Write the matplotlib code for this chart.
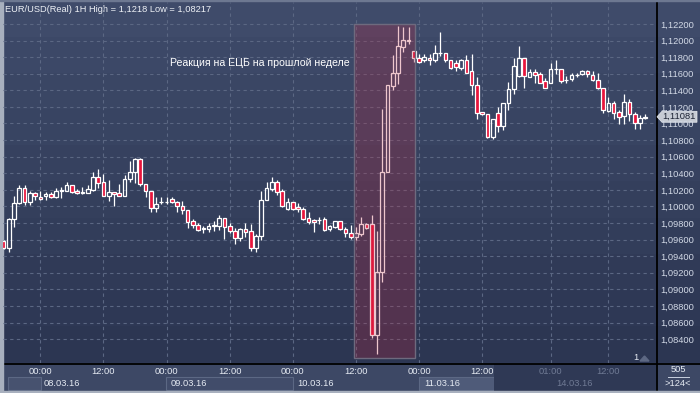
import matplotlib
matplotlib.use("Agg")
import matplotlib.pyplot as plt
import numpy as np
from matplotlib.colors import LinearSegmentedColormap
from matplotlib.patches import Rectangle, Polygon
from matplotlib.ticker import FuncFormatter
from matplotlib.transforms import blended_transform_factory

plt.rcParams["font.family"] = ["Liberation Sans", "DejaVu Sans"]

# EUR/USD 1H candles, 07.03.16 17:00 .. 14.03.16
OPEN = [1.09587, 1.09495, 1.09845, 1.10038, 1.10219, 1.10057, 1.10158, 1.10117, 1.10126, 1.10150,
        1.10117, 1.10182, 1.10190, 1.10258, 1.10190, 1.10165, 1.10165, 1.10198, 1.10351, 1.10291,
        1.10129, 1.10170, 1.10158, 1.10129, 1.10327, 1.10412, 1.10568, 1.10267, 1.10186, 1.09977,
        1.10050, 1.10054, 1.10093, 1.10050, 1.10001, 1.09953, 1.09820, 1.09772, 1.09724, 1.09731,
        1.09765, 1.09767, 1.09857, 1.09764, 1.09707, 1.09623, 1.09724, 1.09704, 1.09502, 1.09643,
        1.10074, 1.10214, 1.10295, 1.10186, 1.09969, 1.10050, 1.09997, 1.09969, 1.09857, 1.09836,
        1.09834, 1.09845, 1.09731, 1.09752, 1.09824, 1.09724, 1.09683, 1.09635, 1.09667, 1.09784,
        1.09788, 1.08449, 1.09206, 1.10412, 1.11456, 1.11605, 1.11926, 1.12000, 1.11878, 1.11786,
        1.11762, 1.11794, 1.11762, 1.11845, 1.11847, 1.11762, 1.11733, 1.11673, 1.11766, 1.11633,
        1.11461, 1.11135, 1.11111, 1.10841, 1.11130, 1.10973, 1.11244, 1.11412, 1.11576, 1.11786,
        1.11564, 1.11618, 1.11593, 1.11513, 1.11492, 1.11652, 1.11654, 1.11525, 1.11533, 1.11583,
        1.11593, 1.11637, 1.11585, 1.11525, 1.11425, 1.11151, 1.11244, 1.11139, 1.11087, 1.11259,
        1.11111, 1.11010, 1.11063]
HIGH = [1.09595, 1.09864, 1.10126, 1.10258, 1.10258, 1.10186, 1.10178, 1.10186, 1.10178, 1.10178,
        1.10226, 1.10238, 1.10298, 1.10258, 1.10206, 1.10238, 1.10258, 1.10419, 1.10448, 1.10391,
        1.10319, 1.10170, 1.10267, 1.10379, 1.10551, 1.10580, 1.10580, 1.10267, 1.10186, 1.10110,
        1.10110, 1.10110, 1.10110, 1.10069, 1.10062, 1.09960, 1.09845, 1.09796, 1.09764, 1.09796,
        1.09824, 1.09897, 1.09857, 1.09796, 1.09736, 1.09736, 1.09804, 1.09788, 1.09667, 1.10186,
        1.10295, 1.10355, 1.10319, 1.10206, 1.10098, 1.10050, 1.10038, 1.09997, 1.09933, 1.09848,
        1.09869, 1.09869, 1.09772, 1.09824, 1.09824, 1.09755, 1.09772, 1.09755, 1.09869, 1.09804,
        1.09897, 1.09707, 1.11171, 1.11464, 1.11826, 1.12180, 1.12160, 1.12160, 1.11878, 1.11835,
        1.11835, 1.11835, 1.11947, 1.12100, 1.11847, 1.11762, 1.11762, 1.11780, 1.11826, 1.11835,
        1.11564, 1.11140, 1.11111, 1.11054, 1.11195, 1.11244, 1.11504, 1.11786, 1.11935, 1.11786,
        1.11654, 1.11654, 1.11618, 1.11545, 1.11726, 1.11766, 1.11654, 1.11573, 1.11605, 1.11613,
        1.11645, 1.11645, 1.11637, 1.11613, 1.11425, 1.11320, 1.11271, 1.11163, 1.11356, 1.11292,
        1.11142, 1.11103, 1.11111]
LOW = [1.09486, 1.09454, 1.09755, 1.10030, 1.10017, 1.10017, 1.10077, 1.10077, 1.10077, 1.10105,
       1.10105, 1.10105, 1.10190, 1.10165, 1.10150, 1.10150, 1.10158, 1.10190, 1.10219, 1.10129,
       1.10069, 1.10009, 1.10129, 1.10129, 1.10291, 1.10279, 1.10250, 1.10117, 1.09936, 1.09936,
       1.10029, 1.10029, 1.10038, 1.09936, 1.09909, 1.09743, 1.09740, 1.09707, 1.09676, 1.09695,
       1.09707, 1.09716, 1.09607, 1.09676, 1.09543, 1.09587, 1.09635, 1.09466, 1.09454, 1.09595,
       1.10074, 1.10186, 1.10134, 1.09989, 1.09957, 1.09957, 1.09936, 1.09836, 1.09788, 1.09695,
       1.09788, 1.09707, 1.09707, 1.09736, 1.09716, 1.09628, 1.09603, 1.09595, 1.09643, 1.09724,
       1.08417, 1.08217, 1.09092, 1.10412, 1.11404, 1.11476, 1.11866, 1.11959, 1.11745, 1.11726,
       1.11745, 1.11706, 1.11745, 1.11818, 1.11738, 1.11654, 1.11633, 1.11645, 1.11605, 1.11344,
       1.11051, 1.11100, 1.10822, 1.10813, 1.10901, 1.10922, 1.11163, 1.11356, 1.11557, 1.11425,
       1.11557, 1.11485, 1.11488, 1.11425, 1.11492, 1.11593, 1.11492, 1.11485, 1.11516, 1.11564,
       1.11585, 1.11564, 1.11516, 1.11412, 1.11123, 1.11142, 1.11051, 1.10994, 1.10994, 1.11030,
       1.10930, 1.10934, 1.11051]
CLOSE = [1.09495, 1.09852, 1.10038, 1.10219, 1.10057, 1.10165, 1.10126, 1.10086, 1.10146, 1.10117,
         1.10186, 1.10198, 1.10258, 1.10178, 1.10158, 1.10174, 1.10206, 1.10351, 1.10279, 1.10129,
         1.10170, 1.10150, 1.10129, 1.10327, 1.10412, 1.10568, 1.10270, 1.10186, 1.09977, 1.10026,
         1.10057, 1.10057, 1.10050, 1.10001, 1.09953, 1.09816, 1.09772, 1.09719, 1.09736, 1.09764,
         1.09770, 1.09857, 1.09755, 1.09700, 1.09623, 1.09724, 1.09695, 1.09502, 1.09643, 1.10074,
         1.10222, 1.10295, 1.10178, 1.10009, 1.10057, 1.09965, 1.09965, 1.09848, 1.09816, 1.09816,
         1.09838, 1.09719, 1.09760, 1.09824, 1.09731, 1.09676, 1.09635, 1.09683, 1.09784, 1.09736,
         1.08449, 1.09206, 1.10412, 1.11464, 1.11605, 1.11935, 1.12007, 1.12003, 1.11786, 1.11738,
         1.11802, 1.11766, 1.11847, 1.11849, 1.11766, 1.11666, 1.11681, 1.11766, 1.11613, 1.11464,
         1.11130, 1.11111, 1.10841, 1.11054, 1.10973, 1.11244, 1.11412, 1.11693, 1.11786, 1.11576,
         1.11618, 1.11585, 1.11492, 1.11425, 1.11654, 1.11656, 1.11516, 1.11527, 1.11585, 1.11587,
         1.11637, 1.11593, 1.11525, 1.11425, 1.11163, 1.11244, 1.11130, 1.11078, 1.11256, 1.11115,
         1.11010, 1.11063, 1.11081]

PRICE_TICKS = [1.084, 1.086, 1.088, 1.090, 1.092, 1.094, 1.096, 1.098, 1.100, 1.102,
               1.104, 1.106, 1.108, 1.110, 1.112, 1.114, 1.116, 1.118, 1.120, 1.122]
GRID_IDX = [7, 19, 31, 43, 55, 67, 79, 91, 104, 115]
TIME_LABELS = ["00:00", "12:00", "00:00", "12:00", "00:00", "12:00", "00:00", "12:00", "01:00", "12:00"]
DATE_IDX = [7.7, 31.7, 55.8, 79.9, 105.0]
DATE_LABELS = ["08.03.16", "09.03.16", "10.03.16", "11.03.16", "14.03.16"]
ECB_START, ECB_END = 66.6, 78.2
ECB_LOW, ECB_HIGH = 1.08168, 1.12196
TITLE = "EUR/USD(Real) 1H High = 1,1218 Low = 1,08217"
NOTE = "Реакция на ЕЦБ на прошлой неделе"

BG_TOP = "#3f4b6a"
BG_BOT = "#2a3450"
PANEL = "#3d4865"
UP_EDGE = "white"
DOWN_FILL = "#e8153c"

fig = plt.figure(figsize=(7, 3.93), dpi=100)

# pixel-space background layer
bg = fig.add_axes([0, 0, 1, 1])
bg.set_xlim(0, 700)
bg.set_ylim(393, 0)
bg.axis("off")
grad = np.floor(np.linspace(0, 1, 363) * 10) / 10
cmap = LinearSegmentedColormap.from_list("bgc", [BG_TOP, BG_BOT])
bg.imshow(grad[:, None], cmap=cmap, extent=(0, 700, 363, 0), aspect="auto", zorder=0)
bg.add_patch(Rectangle((0, 363), 700, 30, color=PANEL, zorder=1))
# date boxes in the bottom strip
bg.add_patch(Rectangle((8, 377), 33, 13, facecolor="#47526f", edgecolor="#5c6884", lw=0.8, zorder=2))
bg.add_patch(Rectangle((166, 377), 127, 13, facecolor="#414c6a", edgecolor="#5c6884", lw=0.8, zorder=2))
bg.add_patch(Rectangle((419, 377), 75, 13, facecolor="#4f5b79", edgecolor="#5c6884", lw=0.8, zorder=2))
bg.add_patch(Rectangle((494, 364), 162, 27, facecolor="#2f3955", edgecolor="none", zorder=2))
bg.plot([0, 700], [363.5, 363.5], color="black", lw=1.3, zorder=5)
bg.plot([656.5, 656.5], [0, 393], color="black", lw=1.3, zorder=5)
# outer frame
bg.add_patch(Rectangle((0, 0), 3, 393, color="#a8b0be", zorder=6))
bg.add_patch(Rectangle((0, 391), 700, 2, color="#a8b0be", zorder=6))
bg.add_patch(Rectangle((0, 0), 700, 1, color="#6d7891", zorder=6))

bg.text(5, 9, TITLE, color="#eef1f6", fontsize=6.7, va="center", ha="left", zorder=7)
bg.text(678, 370, "505", color="#e6ebf3", fontsize=6.7, va="center", ha="center", zorder=7)
bg.plot([668, 689], [377, 377], color="#c9d1df", lw=0.7, zorder=7)
bg.text(678, 384, ">124<", color="#e6ebf3", fontsize=6.7, va="center", ha="center", zorder=7)
bg.text(636, 357, "1", color="#e6ebf3", fontsize=6.7, va="center", ha="center", zorder=7)
bg.add_patch(Polygon([(640, 361), (649, 361), (644.5, 356)], color="#5d6883", zorder=7))

# price chart
ax = fig.add_axes([3 / 700, 30 / 393, 653 / 700, 361 / 393])
ax.patch.set_alpha(0)
for s in ax.spines.values():
    s.set_visible(False)
ax.set_xlim(-0.1, 124.05)
ax.set_ylim(1.08112, 1.12465)
ax.set_yticks(PRICE_TICKS)
ax.yaxis.tick_right()
ax.yaxis.set_major_formatter(FuncFormatter(lambda v, p: f"{v:.5f}".replace(".", ",")))
ax.tick_params(axis="y", length=0, pad=3, labelsize=6.7, labelcolor="#d3dae7")
ax.set_xticks(GRID_IDX)
ax.tick_params(axis="x", length=0, labelbottom=False)
ax.grid(True, color="#5b6783", linestyle=(0, (3, 3)), linewidth=0.8)
ax.set_axisbelow(True)

o = np.array(OPEN)
h = np.array(HIGH)
lo = np.array(LOW)
c = np.array(CLOSE)
x = np.arange(len(o))
top = np.maximum(o, c)
bot = np.minimum(o, c)
ax.vlines(x, top, h, color=UP_EDGE, lw=0.9, zorder=3)
ax.vlines(x, lo, bot, color=UP_EDGE, lw=0.9, zorder=3)
up = c >= o
ax.bar(x[up], (top - bot)[up], bottom=bot[up], width=0.7, facecolor="none",
       edgecolor=UP_EDGE, linewidth=0.9, zorder=3)
ax.bar(x[~up], (top - bot)[~up], bottom=bot[~up], width=0.7, facecolor=DOWN_FILL,
       edgecolor=UP_EDGE, linewidth=0.9, zorder=3)

# ECB reaction highlight
ax.add_patch(Rectangle((ECB_START, ECB_LOW), ECB_END - ECB_START, ECB_HIGH - ECB_LOW,
                       facecolor=(0.75, 0.15, 0.25, 0.26), edgecolor="#6e6a7e", lw=1.0, zorder=4))
bg.text(259.5, 63, NOTE, color="white", fontsize=7.6, ha="center", va="center", zorder=7)

# x labels in the bottom strip
xt = blended_transform_factory(ax.transData, bg.transData)
for i, (xi, lab) in enumerate(zip(GRID_IDX, TIME_LABELS)):
    col = "#6f7a94" if i >= 8 else "#e6ebf3"
    ax.text(xi, 371, lab, transform=xt, color=col, fontsize=6.7, ha="center", va="center", clip_on=False)
for i, (xi, lab) in enumerate(zip(DATE_IDX, DATE_LABELS)):
    col = "#6f7a94" if i == 4 else "#e6ebf3"
    ax.text(xi, 384, lab, transform=xt, color=col, fontsize=6.7, ha="left", va="center", clip_on=False)

# last price marker
pt = blended_transform_factory(bg.transData, ax.transData)
last = CLOSE[-1]
dy = 0.00066
bg.add_patch(Polygon([(657, last), (662, last + dy), (697, last + dy), (697, last - dy), (662, last - dy)],
                     closed=True, facecolor="#c6cbd4", edgecolor="#e8ebf0", lw=0.5, transform=pt, zorder=8))
bg.text(679, last, f"{last:.5f}".replace(".", ","), transform=pt, color="#1b2233", fontsize=6.7,
        ha="center", va="center", zorder=9)

fig.savefig("out.png", dpi=100)
